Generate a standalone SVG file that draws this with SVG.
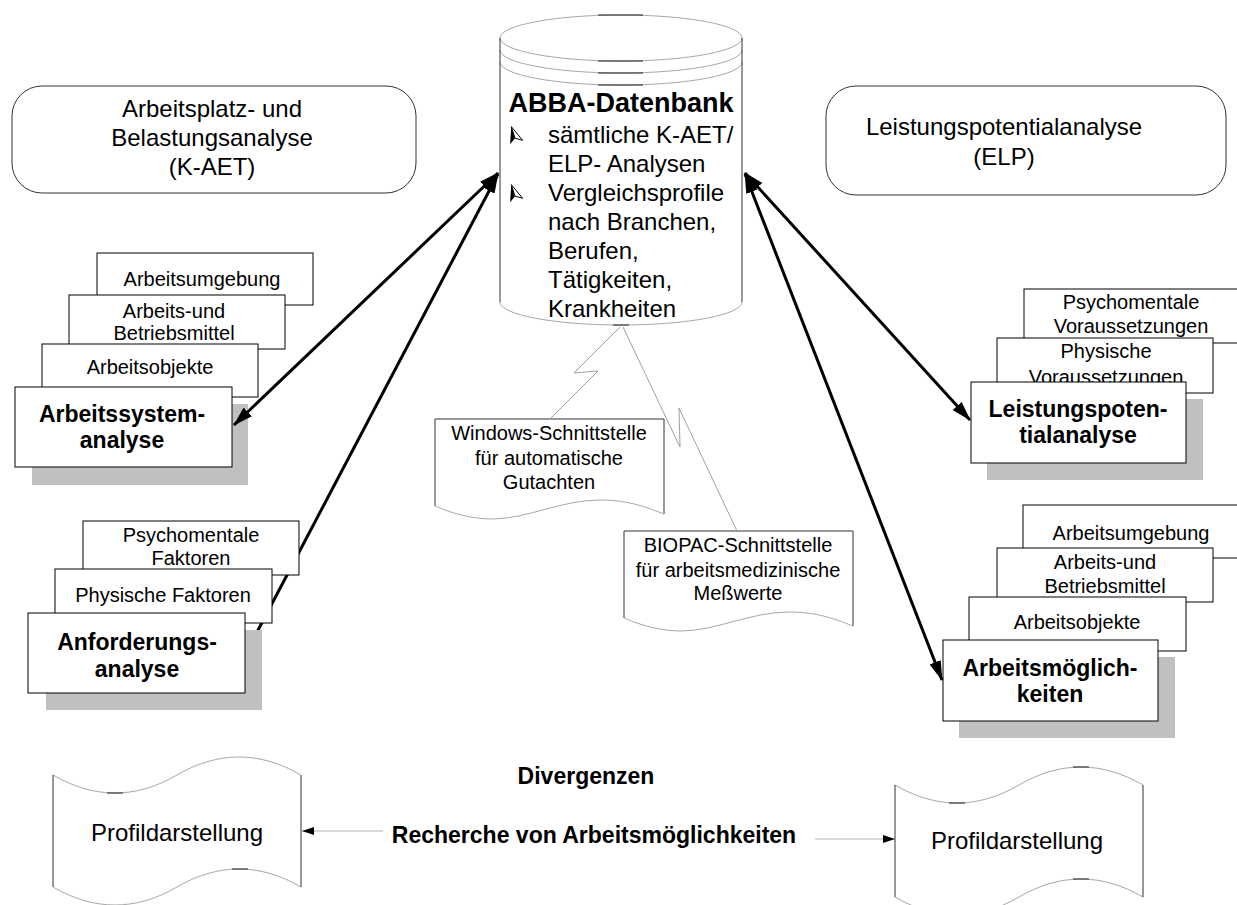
<svg xmlns="http://www.w3.org/2000/svg" width="1237" height="905" viewBox="0 0 1237 905">
  <style>
    text { font-family: "Liberation Sans", Arial, sans-serif; fill: #000; }
    .lbl { font-size: 20px; text-anchor: middle; }
    .big { font-size: 24px; text-anchor: middle; }
    .ttl { font-size: 23px; font-weight: bold; text-anchor: middle; }
    .box { fill: #fff; stroke: #000; stroke-width: 1; }
    .shadow { fill: #c0c0c0; stroke: none; }
    .frame { fill: #fff; stroke: #333; stroke-width: 1; }
    .edge { fill: none; stroke: #333; stroke-width: 1; }
    .soft { fill: none; stroke: #a8a8a8; stroke-width: 1; }
    .tick { stroke: #222; stroke-width: 1.2; }
    .fat { fill: none; stroke: #000; stroke-width: 3; }
    .thin { fill: none; stroke: #b0b0b0; stroke-width: 1; }
    .bolt { fill: none; stroke: #a0a0a0; stroke-width: 1; }
  </style>
  <defs>
    <marker id="head" viewBox="0 0 20 12" refX="19" refY="6" markerWidth="20" markerHeight="12" markerUnits="userSpaceOnUse" orient="auto-start-reverse">
      <path d="M0,0 L20,6 L0,12 Z" fill="#000"/>
    </marker>
    <marker id="small" viewBox="0 0 12 8" refX="12" refY="4" markerWidth="12" markerHeight="8" markerUnits="userSpaceOnUse" orient="auto">
      <path d="M0,0 L12,4 L0,8 Z" fill="#000"/>
    </marker>
    <g id="bullet">
      <path d="M0,-8 L-6,7 L0,3 Z" fill="#000"/>
      <path d="M0,-8 L6,7 L0,3 Z" fill="#fff" stroke="#000" stroke-width="0.8"/>
    </g>
  </defs>

  <!-- headline boxes -->
  <g id="kaet-title">
    <rect class="frame" x="12" y="86" width="404" height="107" rx="30"/>
    <text class="big" x="212" y="117">Arbeitsplatz- und</text>
    <text class="big" x="212" y="146">Belastungsanalyse</text>
    <text class="big" x="212" y="175">(K-AET)</text>
  </g>
  <g id="elp-title">
    <rect class="frame" x="826" y="86" width="400" height="109" rx="30"/>
    <text class="big" x="1004" y="135">Leistungspotentialanalyse</text>
    <text class="big" x="1004" y="165">(ELP)</text>
  </g>

  <!-- database cylinder -->
  <g id="abba-db">
    <path d="M500,38 L500,302 A121,23 0 0 0 742,302 L742,38 Z" fill="#fff" stroke="none"/>
    <ellipse cx="621" cy="38" rx="121" ry="23" fill="#fff" class="soft"/>
    <path class="soft" d="M500,50 A121,23 0 0 0 742,50"/>
    <path class="soft" d="M500,62 A121,23 0 0 0 742,62"/>
    <path class="soft" d="M500,302 A121,23 0 0 0 742,302"/>
    <path class="edge" d="M500,38 V302 M742,38 V302"/>
    <path class="tick" d="M598,15 H643 M598,61 H643 M598,73 H643 M598,85 H643 M613,325 H629"/>
    <text x="621" y="112" font-size="27" font-weight="bold" text-anchor="middle">ABBA-Datenbank</text>
    <use href="#bullet" transform="translate(514,135) rotate(-18) scale(1.1)"/>
    <use href="#bullet" transform="translate(514,193) rotate(-18) scale(1.1)"/>
    <g font-size="24">
      <text x="548" y="143">sämtliche K-AET/</text>
      <text x="548" y="172">ELP- Analysen</text>
      <text x="548" y="201">Vergleichsprofile</text>
      <text x="548" y="230">nach Branchen,</text>
      <text x="548" y="259">Berufen,</text>
      <text x="548" y="288">Tätigkeiten,</text>
      <text x="548" y="317">Krankheiten</text>
    </g>
  </g>

  <!-- work system analysis stack -->
  <g id="arbeitssystemanalyse">
    <rect class="box" x="97" y="253" width="216" height="52"/>
    <text class="lbl" x="202" y="286">Arbeitsumgebung</text>
    <rect class="box" x="69" y="295" width="216" height="54"/>
    <text class="lbl" x="174" y="318">Arbeits-und</text>
    <text class="lbl" x="174" y="340">Betriebsmittel</text>
    <rect class="box" x="42" y="344" width="216" height="53"/>
    <text class="lbl" x="150" y="374">Arbeitsobjekte</text>
    <rect class="shadow" x="32" y="404" width="216" height="81"/>
    <rect class="box" x="15" y="387" width="217" height="80"/>
    <text class="ttl" x="122" y="422">Arbeitssystem-</text>
    <text class="ttl" x="122" y="448">analyse</text>
  </g>

  <!-- capability analysis stack -->
  <g id="leistungspotentialanalyse">
    <rect class="box" x="1024" y="289" width="216" height="54"/>
    <text class="lbl" x="1131" y="309">Psychomentale</text>
    <text class="lbl" x="1131" y="333">Voraussetzungen</text>
    <rect class="box" x="997" y="338" width="216" height="55"/>
    <text class="lbl" x="1106" y="358">Physische</text>
    <text class="lbl" x="1106" y="384">Voraussetzungen</text>
    <rect class="shadow" x="987" y="399" width="216" height="81"/>
    <rect class="box" x="971" y="382" width="215" height="81"/>
    <text class="ttl" x="1078" y="417">Leistungspoten-</text>
    <text class="ttl" x="1078" y="443">tialanalyse</text>
  </g>

  <!-- job options stack -->
  <g id="arbeitsmoeglichkeiten">
    <rect class="box" x="1023" y="505" width="216" height="53"/>
    <text class="lbl" x="1131" y="540">Arbeitsumgebung</text>
    <rect class="box" x="997" y="548" width="216" height="54"/>
    <text class="lbl" x="1105" y="569">Arbeits-und</text>
    <text class="lbl" x="1105" y="593">Betriebsmittel</text>
    <rect class="box" x="969" y="597" width="217" height="54"/>
    <text class="lbl" x="1077" y="629">Arbeitsobjekte</text>
    <rect class="shadow" x="959" y="657" width="216" height="81"/>
    <rect class="box" x="943" y="640" width="215" height="81"/>
    <text class="ttl" x="1050" y="676">Arbeitsmöglich-</text>
    <text class="ttl" x="1050" y="702">keiten</text>
  </g>

  <!-- interface documents -->
  <g id="windows-schnittstelle">
    <path d="M435,419 H664 V514 C648,508 630,500 600,500 C561,500 527,519 492,519 C474,519 453,514 435,506 Z" fill="#fff"/>
    <path class="edge" d="M435,506 V419 H664 V514" stroke="#000"/>
    <path class="soft" d="M435,506 C453,514 474,519 492,519 C527,519 561,500 600,500 C630,500 648,508 664,514"/>
    <text class="lbl" x="549" y="440">Windows-Schnittstelle</text>
    <text class="lbl" x="549" y="465">für automatische</text>
    <text class="lbl" x="549" y="489">Gutachten</text>
  </g>
  <g id="biopac-schnittstelle">
    <path d="M624,531 H853 V626 C837,620 819,612 789,612 C750,612 716,631 681,631 C663,631 642,626 624,618 Z" fill="#fff"/>
    <path class="edge" d="M624,618 V531 H853 V626" stroke="#000"/>
    <path class="soft" d="M624,618 C642,626 663,631 681,631 C716,631 750,612 789,612 C819,612 837,620 853,626"/>
    <text class="lbl" x="738" y="552">BIOPAC-Schnittstelle</text>
    <text class="lbl" x="738" y="577">für arbeitsmedizinische</text>
    <text class="lbl" x="738" y="600">Meßwerte</text>
  </g>

  <!-- connectors -->
  <g id="connectors">
    <line class="fat" x1="498" y1="173" x2="234" y2="425" marker-start="url(#head)" marker-end="url(#head)"/>
    <line class="fat" x1="256" y1="634" x2="498" y2="174" marker-end="url(#head)"/>
    <line class="fat" x1="745" y1="173" x2="970" y2="420" marker-start="url(#head)" marker-end="url(#head)"/>
    <line class="fat" x1="745" y1="174" x2="942" y2="680" marker-start="url(#head)" marker-end="url(#head)"/>
    <polyline class="bolt" points="620,327 574,373 598,371 550,419"/>
    <polyline class="bolt" points="623,327 680,447 679,408 737,531"/>
    <line class="thin" x1="383" y1="831" x2="302" y2="831" marker-end="url(#small)"/>
    <line class="thin" x1="815" y1="839" x2="895" y2="839" marker-end="url(#small)"/>
  </g>

  <!-- requirement analysis stack -->
  <g id="anforderungsanalyse">
    <rect class="box" x="83" y="521" width="216" height="54"/>
    <text class="lbl" x="191" y="542">Psychomentale</text>
    <text class="lbl" x="191" y="565">Faktoren</text>
    <rect class="box" x="55" y="569" width="217" height="54"/>
    <text class="lbl" x="163" y="602">Physische Faktoren</text>
    <rect class="shadow" x="46" y="630" width="216" height="80"/>
    <rect class="box" x="28" y="613" width="217" height="80"/>
    <text class="ttl" x="137" y="650">Anforderungs-</text>
    <text class="ttl" x="137" y="677">analyse</text>
  </g>

  <!-- profile output tapes -->
  <g id="profil-links">
    <path d="M53,775 C94.3,799 135.7,799 177,775 C218.3,751 259.7,751 301,775 V887 C259.7,863 218.3,863 177,887 C135.7,911 94.3,911 53,887 Z" fill="#fff"/>
    <path class="soft" d="M53,775 C94.3,799 135.7,799 177,775 C218.3,751 259.7,751 301,775"/>
    <path class="soft" d="M53,887 C94.3,911 135.7,911 177,887 C218.3,863 259.7,863 301,887"/>
    <path class="edge" d="M53,775 V887 M301,775 V887"/>
    <path class="tick" d="M107,793 H123 M232,869 H248"/>
    <text class="big" x="177" y="841">Profildarstellung</text>
  </g>
  <g id="profil-rechts">
    <path d="M895,785 C936.3,809 977.7,809 1019,785 C1060.3,761 1101.7,761 1143,785 V897 C1101.7,873 1060.3,873 1019,897 C977.7,921 936.3,921 895,897 Z" fill="#fff"/>
    <path class="soft" d="M895,785 C936.3,809 977.7,809 1019,785 C1060.3,761 1101.7,761 1143,785"/>
    <path class="soft" d="M895,897 C936.3,921 977.7,921 1019,897 C1060.3,873 1101.7,873 1143,897"/>
    <path class="edge" d="M895,785 V897 M1143,785 V897"/>
    <path class="tick" d="M949,803 H965 M1073,767 H1089 M1073,879 H1089"/>
    <text class="big" x="1017" y="849">Profildarstellung</text>
  </g>

  <!-- central captions -->
  <g id="captions" font-weight="bold" text-anchor="middle" font-size="23">
    <text x="586" y="784">Divergenzen</text>
    <text x="594" y="843">Recherche von Arbeitsmöglichkeiten</text>
  </g>
</svg>
